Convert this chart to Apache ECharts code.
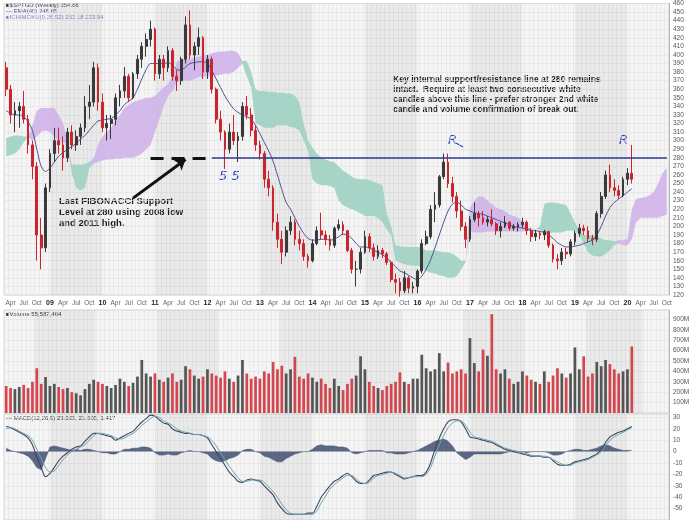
<!DOCTYPE html>
<html><head><meta charset="utf-8">
<script src="https://cdn.jsdelivr.net/npm/echarts@6/dist/echarts.min.js"></script>
<style>html,body{margin:0;padding:0;background:#fff}#c{width:697px;height:520px}</style>
</head><body><div id="c"></div>
<script>
// ---- categories: monthly, Mar 2008 .. Oct 2020 ----
const START_YEAR = 2008, START_MONTH = 3, N_MONTHS = 152;
const months = [];
for (let i = 0; i < N_MONTHS; i++) { const t = START_MONTH - 1 + i; const y = START_YEAR + Math.floor(t / 12); const m = t % 12 + 1; months.push(y + '-' + (m < 10 ? '0' : '') + m); }
const monthNames = ['Jan','Feb','Mar','Apr','May','Jun','Jul','Aug','Sep','Oct','Nov','Dec'];

// ---- price (monthly, Mar 2008 .. Feb 2020) ----
const open = [385,360,330,335,340,325,295,270,190,175,
 245,285,300,295,280,310,295,305,315,340,345,385,
 345,315,320,325,350,358,375,350,378,395,410,418,
 430,378,395,385,405,375,370,395,435,400,410,420,
 380,395,360,325,310,290,310,300,305,340,330,312,
 295,285,255,245,205,185,170,195,205,185,180,165,
 160,180,195,190,185,178,198,202,195,172,150,150,
 170,188,175,165,172,168,158,138,135,125,140,128,
 130,148,180,188,220,225,258,275,250,235,218,200,
 185,208,215,210,205,208,203,195,200,205,198,200,
 202,205,195,188,192,190,194,178,162,160,170,168,
 182,192,198,195,186,185,215,235,260,245,242,236,
 255,262];
const high = [392,365,345,345,358,330,300,275,210,250,
 290,315,315,305,315,318,312,320,352,365,392,390,
 355,330,330,355,365,386,378,380,400,415,425,440,
 432,400,400,410,408,382,398,445,452,415,432,422,
 400,398,362,335,312,320,330,310,345,352,338,318,
 300,288,265,248,215,195,200,212,208,195,185,168,
 185,200,216,195,190,200,208,206,196,175,160,175,
 195,192,180,178,175,170,160,145,140,148,142,135,
 150,185,195,225,240,260,285,285,258,240,230,205,
 212,228,218,218,212,220,205,205,212,206,203,205,
 210,207,198,196,195,196,195,180,168,175,175,185,
 195,203,202,200,190,218,240,265,272,255,248,258,
 268,295];
const low = [352,320,310,315,320,285,255,160,150,170,
 240,275,285,265,275,290,288,295,310,325,340,335,
 310,300,302,318,340,350,345,348,372,385,398,410,
 370,372,370,380,370,358,365,390,395,382,400,372,
 372,355,320,300,267,285,295,275,300,325,305,288,
 278,245,235,195,175,156,165,190,178,172,160,152,
 158,178,185,178,172,175,195,190,170,145,130,145,
 168,170,160,162,163,155,135,122,118,122,122,122,
 122,145,178,185,205,222,255,245,228,210,195,175,
 182,205,200,202,200,200,190,187,198,195,195,194,
 198,190,182,183,185,184,175,158,150,155,162,165,
 178,188,190,182,178,182,210,232,240,235,232,234,
 248,250];
const close = [360,330,335,340,325,295,270,190,175,245,
 285,300,295,280,310,295,305,315,340,345,385,345,
 315,320,325,350,358,375,350,378,395,410,418,430,
 378,395,385,405,375,370,395,435,400,410,420,380,
 395,360,325,310,290,310,300,305,340,330,312,295,
 285,255,245,205,185,170,195,205,185,180,165,160,
 180,195,190,185,178,198,202,195,172,150,150,170,
 188,175,165,172,168,158,138,135,125,140,128,130,
 148,180,188,220,225,258,275,250,235,218,200,185,
 208,215,210,205,208,203,195,200,205,198,200,202,
 205,195,188,192,190,194,178,162,160,170,168,182,
 192,198,195,186,185,215,235,260,245,242,236,255,
 262,255];
const ema40 = [335,332,330,330,328,322,312,290,270,264,
 268,275,282,286,290,293,297,302,306,312,318,323,
 324,325,326,330,335,342,346,350,360,372,383,390,
 390,390,390,391,388,383,382,386,390,391,392,392,
 390,382,372,362,352,344,337,333,330,328,325,318,
 308,298,288,276,260,243,228,220,210,200,192,186,
 184,184,185,185,184,185,188,191,190,186,180,176,
 176,175,172,170,167,163,158,153,148,146,143,140,
 138,142,150,161,175,190,205,218,226,228,225,220,
 218,216,215,214,212,210,208,206,204,202,200,199,
 198,197,195,195,194,193,190,186,181,178,176,176,
 177,178,180,182,184,190,200,212,222,228,232,236,
 240,244];
// ---- Ichimoku cloud spans (Mar 2008 .. Oct 2020) ----
const spanA = [303,305,306,306,305,305,300,305,310,312,
 310,305,300,298,296,272,272,272,273,275,273,275,
 277,278,278,279,279,280,280,280,282,285,290,295,
 310,325,340,352,358,368,370,370,370,372,374,375,
 375,376,376,377,378,378,380,385,393,393,380,360,
 358,358,357,357,356,356,355,355,352,345,320,300,
 292,285,280,278,276,275,270,265,262,258,256,255,
 255,254,252,250,248,215,200,178,177,176,176,176,
 176,175,172,172,172,171,170,170,168,165,160,160,
 195,193,193,193,194,194,194,194,194,194,194,194,
 194,195,196,197,200,226,228,228,227,226,225,215,
 205,195,190,190,190,188,186,184,184,183,180,178,
 178,185,205,210,210,210,210,210,212,214];
const spanB = [282,283,285,290,298,305,318,335,338,338,
 338,338,330,320,300,262,245,242,245,268,280,295,
 305,310,315,325,330,338,342,345,347,348,350,350,
 352,357,362,366,375,392,395,395,395,397,398,400,
 400,402,403,404,404,405,405,402,390,375,362,320,
 318,315,315,315,318,318,318,316,315,312,300,288,
 255,250,248,248,247,245,230,225,222,220,218,215,
 212,212,212,210,205,196,190,160,158,156,155,154,
 154,152,148,146,145,143,142,140,140,142,150,158,
 222,230,235,235,230,226,222,220,218,214,212,210,
 205,200,198,197,196,192,192,193,193,193,195,195,
 195,190,180,170,166,165,165,168,172,178,184,184,
 185,220,232,233,234,236,240,250,262,268];
// ---- volume (millions) ----
const volume = [260,240,230,250,270,240,300,430,280,345,
 260,280,250,230,240,200,190,170,230,280,320,300,
 280,260,240,270,330,300,260,290,350,510,380,350,
 380,320,300,340,380,300,320,450,420,360,330,350,
 420,380,360,340,400,330,300,360,510,380,330,350,
 330,400,380,490,420,455,380,420,540,350,330,380,
 340,300,330,280,240,330,260,220,280,330,360,545,
 420,300,260,240,220,260,280,300,390,300,280,330,
 330,560,430,400,420,575,400,485,380,400,420,380,
 720,480,400,610,550,950,420,380,420,330,280,300,
 400,360,320,300,280,400,300,360,430,380,340,380,
 630,420,545,350,380,490,450,510,470,420,380,400,
 420,640];
// ---- MACD(12,26,9) ----
const macd = [22,21,19,17,15,12,6,-5,-14,-22,
 -19,-14,-8,-4,-1,2,4,5,9,13,16,16,
 15,14,13,10,12,14,16,18,22,26,29,32,
 31,28,25,24,20,18,17,16,16,15,15,14,
 12,6,0,-6,-12,-18,-22,-26,-27,-25,-24,-25,
 -26,-30,-34,-38,-45,-50,-54,-55,-55,-55,-55,-54,
 -54,-48,-40,-35,-30,-26,-24,-21,-19,-22,-26,-28,
 -28,-25,-21,-20,-19,-18,-18,-20,-22,-24,-23,-22,
 -21,-21,-18,-10,2,12,20,26,28,28,26,20,
 13,12,11,10,9,8,6,4,2,1,0,-1,
 -2,-3,-4,-4,-4,-5,-5,-8,-11,-12,-12,-11,
 -9,-8,-7,-6,-4,-2,2,8,13,15,17,18,
 20,22];
const signal = [20,21,20,18,16,14,10,2,-6,-14,
 -18,-17,-12,-7,-3,0,2,4,6,10,14,16,
 16,15,14,12,11,12,14,16,19,23,26,29,
 31,30,27,25,23,20,18,17,16,15,15,14,
 13,10,5,-1,-7,-13,-18,-23,-26,-26,-25,-25,
 -25,-27,-31,-35,-40,-46,-51,-54,-55,-55,-55,-55,
 -55,-52,-45,-39,-33,-29,-26,-23,-21,-21,-24,-27,
 -28,-27,-23,-21,-20,-19,-18,-19,-21,-23,-23,-22,
 -22,-22,-20,-14,-4,6,14,21,25,27,27,23,
 17,13,12,11,10,9,7,5,3,2,1,0,
 -1,-2,-3,-4,-4,-4,-5,-7,-9,-11,-12,-12,
 -10,-9,-8,-7,-5,-3,0,5,10,13,15,17,
 19,21];
const hist = [3,1,0,-1,-2,-4,-8,-14,-16,-6,
 4,5,4,3,2,1,2,1,2,2,1,0,
 -1,-1,-2,-2,0,2,2,3,3,4,4,3,
 -1,-3,-3,-2,-3,-3,-1,0,1,0,0,-1,
 -2,-6,-8,-9,-8,-6,-5,-3,1,2,2,0,
 -1,-4,-5,-7,-9,-9,-6,-4,-2,-1,0,0,
 2,5,6,5,5,5,4,4,3,-1,-2,-1,
 0,1,1,1,1,-1,-1,-2,-2,-2,-1,0,
 1,3,5,7,9,10,11,9,5,-1,-4,-7,
 -5,-2,-2,-2,-2,-2,-2,-2,-1,0,0,0,
 0,-1,0,0,0,0,-1,-3,-3,-2,0,1,
 2,2,1,1,2,3,5,6,5,3,2,1,
 1,1];
const shadedYears = [2009, 2011, 2013, 2015, 2017, 2019];

// ---- build ----
const candleData = open.map((o, i) => [o, close[i], low[i], high[i]]);
const cloudBase = spanA.map((a, i) => Math.min(a, spanB[i]));
const cloudGreen = spanA.map((a, i) => Math.max(a - spanB[i], 0));
const cloudPurple = spanA.map((a, i) => Math.max(spanB[i] - a, 0));
const RED = '#c8252e', DARK = '#3a3a3a';
const volData = volume.map((v, i) => ({ value: v, itemStyle: { color: close[i] >= open[i] ? '#555555' : '#d4454e' } }));
const yearBands = (g) => shadedYears.map(y => [{ xAxis: y + '-01' }, { xAxis: (y + 1) + '-01' }]);

const chart = echarts.init(document.getElementById('c'));
const gridCommon = { left: 4, right: 28, show: true, backgroundColor: '#f5f5f5', borderColor: '#b8b8b8', borderWidth: 0.6 };
const xCommon = (gi, showLabels) => ({
  type: 'category', gridIndex: gi, data: months, boundaryGap: true,
  axisLine: { show: false }, axisTick: { show: false },
  splitLine: { show: true, interval: 0, lineStyle: { color: '#e2e2e2', width: 0.6 } },
  axisLabel: showLabels ? {
    show: true, fontSize: 6.5, color: '#666', margin: 5,
    interval: (idx, val) => ['01','04','07','10'].includes(val.slice(5)),
    formatter: (val) => { const m = +val.slice(5); return m === 1 ? '{y|' + val.slice(2, 4) + '}' : monthNames[m - 1]; },
    rich: { y: { fontSize: 7, fontWeight: 'bold', color: '#222' } }
  } : { show: false }
});
const yCommon = (gi, min, max, fmt) => ({
  type: 'value', gridIndex: gi, position: 'right', min, max, interval: gi === 0 ? 10 : 10,
  axisLine: { show: true, lineStyle: { color: '#999', width: 0.6 } }, axisTick: { show: false },
  splitLine: { show: true, lineStyle: { color: '#e0e0e0', width: 0.6 } },
  axisLabel: { fontSize: 6.5, color: '#555', margin: 4, formatter: fmt }
});

const option = {
  backgroundColor: '#ffffff',
  animation: false,
  grid: [
    Object.assign({ top: 1, height: 294 }, gridCommon),
    Object.assign({ top: 310, height: 103 }, gridCommon),
    Object.assign({ top: 414, height: 106 }, gridCommon)
  ],
  xAxis: [xCommon(0, true), xCommon(1, false), xCommon(2, false)],
  yAxis: [
    yCommon(0, 120, 460, v => v),
    Object.assign(yCommon(1, 0, 990, v => (v > 0 && v % 100 === 0) ? v + 'M' : ''), { interval: 100 }),
    yCommon(2, -60, 33, v => (v > -60 && v % 10 === 0) ? v : '')
  ],
  series: [
    { name: 'cloudBase', type: 'line', xAxisIndex: 0, yAxisIndex: 0, data: cloudBase, stack: 'cloud', symbol: 'none', lineStyle: { width: 0 }, silent: true, z: 1,
      markArea: { silent: true, itemStyle: { color: 'rgba(0,0,0,0.045)' }, data: yearBands() } },
    { name: 'cloudGreen', type: 'line', xAxisIndex: 0, yAxisIndex: 0, data: cloudGreen, stack: 'cloud', symbol: 'none', lineStyle: { width: 0 }, areaStyle: { color: '#9fd1c3', opacity: 0.9 }, z: 1 },
    { name: 'cloudPurple', type: 'line', xAxisIndex: 0, yAxisIndex: 0, data: cloudPurple, stack: 'cloud', symbol: 'none', lineStyle: { width: 0 }, areaStyle: { color: '#cfb4ea', opacity: 0.9 }, z: 1 },
    { name: 'EMA(40)', type: 'line', xAxisIndex: 0, yAxisIndex: 0, data: ema40, symbol: 'none', smooth: 0.3, lineStyle: { color: '#4a5596', width: 1 }, z: 3,
      markLine: { silent: true, symbol: ['none', 'none'], symbolSize: 10, label: { show: false },
        data: [
          [{ coord: ['2010-12', 280], lineStyle: { color: '#111', width: 3, type: [13, 8] } }, { coord: ['2012-02', 280] }],
          [{ coord: ['2012-02', 280], lineStyle: { color: '#2b3990', width: 1.5, type: 'solid' } }, { coord: ['2020-10', 280] }],
          [{ coord: ['2010-08', 233], lineStyle: { color: '#111', width: 3, type: 'solid' } }, { coord: ['2011-08', 278], symbol: 'arrow' }]
        ] } },
    { name: '$SPTGD', type: 'candlestick', xAxisIndex: 0, yAxisIndex: 0, data: candleData, barMaxWidth: 3,
      itemStyle: { color: DARK, color0: RED, borderColor: DARK, borderColor0: RED, borderWidth: 1 }, z: 4 },
    { name: 'Volume', type: 'bar', xAxisIndex: 1, yAxisIndex: 1, data: volData, barWidth: '62%',
      markArea: { silent: true, itemStyle: { color: 'rgba(0,0,0,0.045)' }, data: yearBands() } },
    { name: 'Hist', type: 'line', xAxisIndex: 2, yAxisIndex: 2, data: hist, symbol: 'none', lineStyle: { color: '#4b5878', width: 0.6 }, areaStyle: { color: '#4b5878', opacity: 0.9 },
      markArea: { silent: true, itemStyle: { color: 'rgba(0,0,0,0.045)' }, data: yearBands() } },
    { name: 'MACD', type: 'line', xAxisIndex: 2, yAxisIndex: 2, data: macd, symbol: 'none', smooth: 0.3, lineStyle: { color: '#3d4660', width: 1.1 } },
    { name: 'Signal', type: 'line', xAxisIndex: 2, yAxisIndex: 2, data: signal, symbol: 'none', smooth: 0.3, lineStyle: { color: '#6aa3ad', width: 1 } }
  ],
  graphic: [
    { type: 'text', left: 6, top: 2, style: { text: '■$SPTGD (Weekly) 254.86', font: '6px "Liberation Sans"', fill: '#333' } },
    { type: 'text', left: 6, top: 8, style: { text: '— EMA(40) 246.65', font: '6px "Liberation Sans"', fill: '#34459a' } },
    { type: 'text', left: 6, top: 14, style: { text: '■ICHIMOKU(9,26,52) 263.18 233.94', font: '6px "Liberation Sans"', fill: '#9a78c4' } },
    { type: 'text', left: 6, top: 311, style: { text: '■Volume 55,587,464', font: '6px "Liberation Sans"', fill: '#333' } },
    { type: 'text', left: 6, top: 415, style: { text: '— MACD(12,26,9) 23.023, 21.605, 1.417', font: '6px "Liberation Sans"', fill: '#333' } },
    { type: 'text', left: 59, top: 196, style: { text: 'Last FIBONACCI Support\nLevel at 280 using 2008 low\nand 2011 high.', font: 'bold 9.5px "Liberation Sans"', lineHeight: 11, fill: '#1a1a1a' } },
    { type: 'text', left: 393, top: 75, style: { text: 'Key internal support/resistance line at 280 remains\nintact.  Require at least two consecutive white\ncandles above this line - prefer stronger 2nd white\ncandle and volume confirmation of break out.', font: 'bold 8.6px "Liberation Sans"', lineHeight: 9.8, fill: '#1a1a1a' } },
    { type: 'text', left: 219, top: 170, style: { text: '5 5', font: 'italic 13px "DejaVu Sans"', fill: '#2f44c2' } },
    { type: 'text', left: 448, top: 134, style: { text: 'R', font: 'italic 13px "DejaVu Sans"', fill: '#2f44c2' } },
    { type: 'line', shape: { x1: 456, y1: 143, x2: 463, y2: 147 }, style: { stroke: '#2f44c2', lineWidth: 1.2 } },
    { type: 'text', left: 619, top: 134, style: { text: 'R', font: 'italic 13px "DejaVu Sans"', fill: '#2f44c2' } }
  ]
};
chart.setOption(option);
</script></body></html>
